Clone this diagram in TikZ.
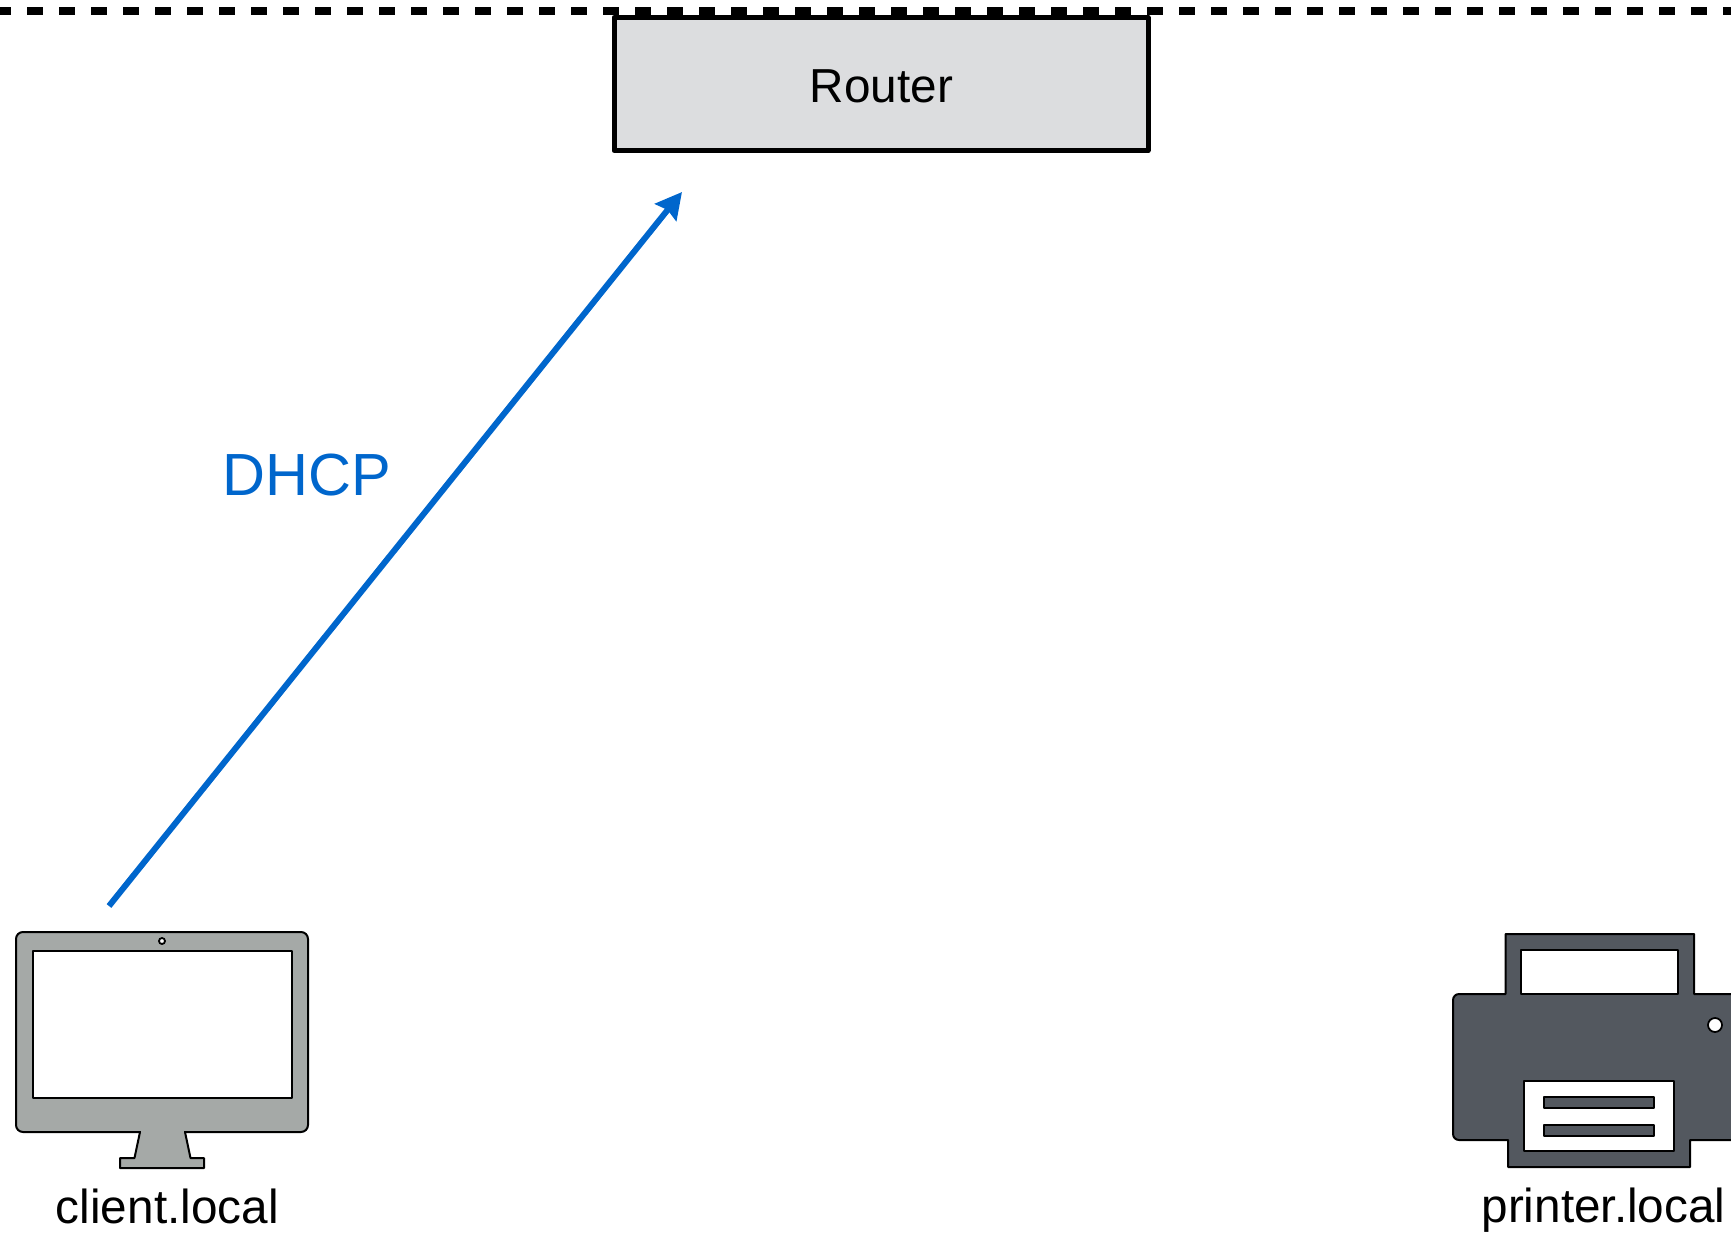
\documentclass[tikz,border=0pt]{standalone}
\usepackage{fontspec}
\setmainfont{Liberation Sans}
\usetikzlibrary{arrows.meta}
\definecolor{flow}{HTML}{0066CC}
\definecolor{mon}{HTML}{A5A9A7}
\definecolor{prn}{HTML}{53585F}
\definecolor{rtr}{HTML}{DCDDDF}
\tikzset{
  label48/.style={inner sep=0pt,anchor=base,font=\fontsize{47.7}{48}\selectfont},
  iconline/.style={draw=black,line width=2pt,line join=round},
  routerbox/.style={draw=black,fill=rtr,line width=5pt,line join=round,minimum width=534pt,minimum height=133pt,inner sep=0pt,outer sep=0pt,anchor=north west},
}
\begin{document}
\begin{tikzpicture}[x=1pt,y=-1pt]
\useasboundingbox (0,0) rectangle (1731,1234);
\clip (0,0) rectangle (1731,1234);
% boundary
\draw[line width=8pt,dash pattern=on 16pt off 16pt,dash phase=4.7pt] (0,10.7) -- (1731,10.7);
% router
\node[routerbox] (router) at (614,17.5) {};
\node[label48] (routertext) at (881.5,102) {Router};
% monitor
\draw[iconline,fill=mon] (140,1132) -- (134.5,1158) -- (120,1158) -- (120,1168) -- (204,1168) -- (204,1158) -- (190.5,1158) -- (185,1132) -- cycle;
\draw[iconline,fill=mon,rounded corners=7pt] (16,932) rectangle (308,1132);
\fill[mon] (141.2,1128) rectangle (183.8,1134);
\draw[iconline,fill=white] (33,951) rectangle (292,1098);
\draw[draw=black,line width=1.8pt,fill=white] (162,941) circle (3);
\node[label48] (client) at (167.3,1223) {client.local};
% printer
\draw[iconline,fill=prn] (1505.5,994) -- (1505.5,934) -- (1694,934) -- (1694,994) -- (1760,994) -- (1760,1140) -- (1690,1140) -- (1690,1167) -- (1508,1167) -- (1508,1140) -- (1459,1140) arc[start angle=90,end angle=180,radius=6] -- (1453,1000) arc[start angle=180,end angle=270,radius=6] -- cycle;
\draw[iconline,fill=white] (1521,950) rectangle (1678,994);
\draw[iconline,fill=white] (1524,1081) rectangle (1674,1151);
\draw[iconline,fill=prn] (1544,1097) rectangle (1654,1108);
\draw[iconline,fill=prn] (1544,1125) rectangle (1654,1136);
\draw[draw=black,line width=1.8pt,fill=white] (1715,1025) circle (7);
\node[label48] (printer) at (1603.5,1222) {printer.local};
% flow
\coordinate (from) at (109,906);
\coordinate (to) at (682,192);
\draw[draw=flow,line width=6pt,-{Stealth[length=26pt,width=27pt,inset=3pt]}] (from) -- (to);
\node[label48,text=flow,font=\fontsize{59.5}{60}\selectfont] (dhcp) at (306.5,495) {DHCP};
\end{tikzpicture}
\end{document}
